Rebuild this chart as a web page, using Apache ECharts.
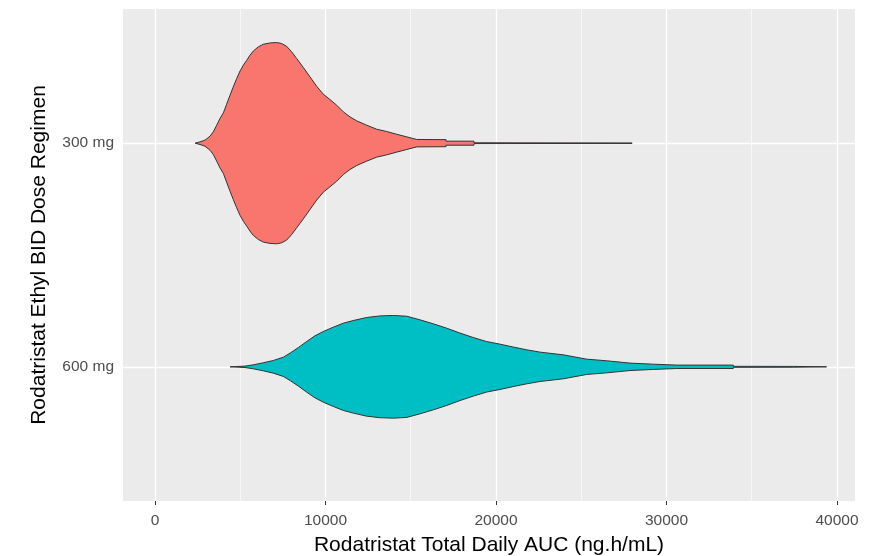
<!DOCTYPE html>
<html>
<head>
<meta charset="utf-8">
<script src="https://cdn.jsdelivr.net/npm/echarts@6/dist/echarts.min.js"></script>
<style>
  html, body { margin: 0; padding: 0; background: #fff; }
  #violinChart { width: 870px; height: 556px; }
</style>
</head>
<body>
<div id="violinChart"></div>
<script>
// Dose groups (y positions 1 and 2)
const doses = ['300 mg', '600 mg'];

// Violin outlines: AUC value and relative density (peak of 300 mg = 1)
const auc300 = [2350, 2640, 2930, 3230, 3420, 3620, 3810, 4010, 4200, 4400, 4590, 4790, 4990, 5180,
  5380, 5570, 5770, 6060, 6350, 6750, 7140, 7430, 7720, 8020, 8310, 8700, 9090, 9480, 9870, 10260,
  10660, 11050, 11440, 11830, 12410, 13000, 13590, 14170, 14760, 15350, 17070, 17070, 18710, 18710, 27980];
const dens300 = [0, 0.013, 0.03, 0.07, 0.113, 0.179, 0.245, 0.301, 0.387, 0.477, 0.559, 0.642, 0.718, 0.775,
  0.824, 0.874, 0.917, 0.957, 0.983, 0.996, 1.0, 0.99, 0.963, 0.907, 0.841, 0.752, 0.659, 0.566, 0.487, 0.434,
  0.377, 0.311, 0.261, 0.222, 0.179, 0.139, 0.116, 0.089, 0.063, 0.037, 0.035, 0.02, 0.02, 0.004, 0.002];

const auc600 = [4400, 5280, 5770, 6350, 6940, 7530, 7920, 8410, 8900, 9380, 9870, 10460, 11050, 11630,
  12410, 13200, 13980, 14760, 15540, 16330, 17110, 17890, 18670, 19450, 20240, 21020, 21800, 22580,
  23950, 25320, 26490, 27860, 29230, 30600, 33920, 33920, 37440, 39390];
const dens600 = [0, 0.007, 0.02, 0.04, 0.063, 0.096, 0.136, 0.192, 0.252, 0.308, 0.351, 0.394, 0.434, 0.46,
  0.49, 0.506, 0.51, 0.503, 0.467, 0.427, 0.384, 0.335, 0.291, 0.251, 0.225, 0.196, 0.169, 0.146,
  0.119, 0.076, 0.06, 0.037, 0.026, 0.017, 0.017, 0.005, 0.004, 0];

// Axis breaks
const xTicks = [0, 10000, 20000, 30000, 40000];
const xMinor = [5000, 15000, 25000, 35000];
const yTicks = [1, 2];

const outlines = [[auc300, dens300], [auc600, dens600]];
const fills = ['#F8766D', '#00BFC4'];

// Draw a violin as a polygon: top edge left to right, bottom edge right to left
function renderViolin(params, api) {
  const pos = api.value(0);
  const [xs, ds] = outlines[pos - 1];
  const top = xs.map((x, k) => api.coord([x, pos - ds[k] * 0.45]));
  const bottom = xs.map((x, k) => api.coord([x, pos + ds[k] * 0.45])).reverse();
  return {
    type: 'polygon',
    shape: { points: top.concat(bottom) },
    style: { fill: fills[pos - 1], stroke: '#333333', lineWidth: 1 }
  };
}

const chartDom = document.getElementById('violinChart');
const myChart = echarts.init(chartDom);

const major = { color: '#ffffff', width: 1.3, type: 'solid' };
const minor = { color: '#ffffff', width: 0.6, type: 'solid' };
const font = 'Liberation Sans, Arial, sans-serif';

const option = {
  animation: false,
  grid: {
    left: 123, right: 15, top: 9, bottom: 55,
    outerBoundsMode: 'none',
    containLabel: false,
    show: true, backgroundColor: '#EBEBEB', borderWidth: 0
  },
  xAxis: {
    type: 'value',
    min: -1877,
    max: 41056,
    splitLine: { show: false },
    axisLine: { show: false },
    axisTick: { show: true, customValues: xTicks, length: 4, lineStyle: { color: '#333333', width: 1 } },
    axisLabel: {
      customValues: xTicks, color: '#4D4D4D', fontSize: 15.5, margin: 12, fontFamily: font,
      formatter: v => String(v)
    },
    name: 'Rodatristat Total Daily AUC (ng.h/mL)',
    nameLocation: 'middle',
    nameGap: 34,
    nameTextStyle: { color: '#000000', fontSize: 21, fontFamily: font }
  },
  yAxis: {
    type: 'value',
    inverse: true,
    min: 0.4,
    max: 2.6,
    splitLine: { show: false },
    axisLine: { show: false },
    axisTick: { show: true, customValues: yTicks, length: 4, lineStyle: { color: '#333333', width: 1 } },
    axisLabel: {
      customValues: yTicks, color: '#4D4D4D', fontSize: 15.5, margin: 9, fontFamily: font,
      formatter: v => doses[Math.round(v) - 1]
    },
    name: 'Rodatristat Ethyl BID Dose Regimen',
    nameLocation: 'middle',
    nameGap: 73,
    nameTextStyle: { color: '#000000', fontSize: 21, fontFamily: font }
  },
  series: [
    {
      // panel grid lines
      type: 'line',
      data: [],
      silent: true,
      z: 1,
      markLine: {
        silent: true,
        symbol: 'none',
        z: 1,
        animation: false,
        label: { show: false },
        data: [
          ...xMinor.map(v => ({ xAxis: v, lineStyle: minor })),
          ...xTicks.map(v => ({ xAxis: v, lineStyle: major })),
          ...yTicks.map(v => ({ yAxis: v, lineStyle: major }))
        ]
      }
    },
    {
      type: 'custom',
      z: 3,
      renderItem: renderViolin,
      dimensions: ['pos'],
      encode: { y: 0 },
      data: doses.map((d, i) => [i + 1])
    }
  ]
};

myChart.setOption(option);
</script>
</body>
</html>
